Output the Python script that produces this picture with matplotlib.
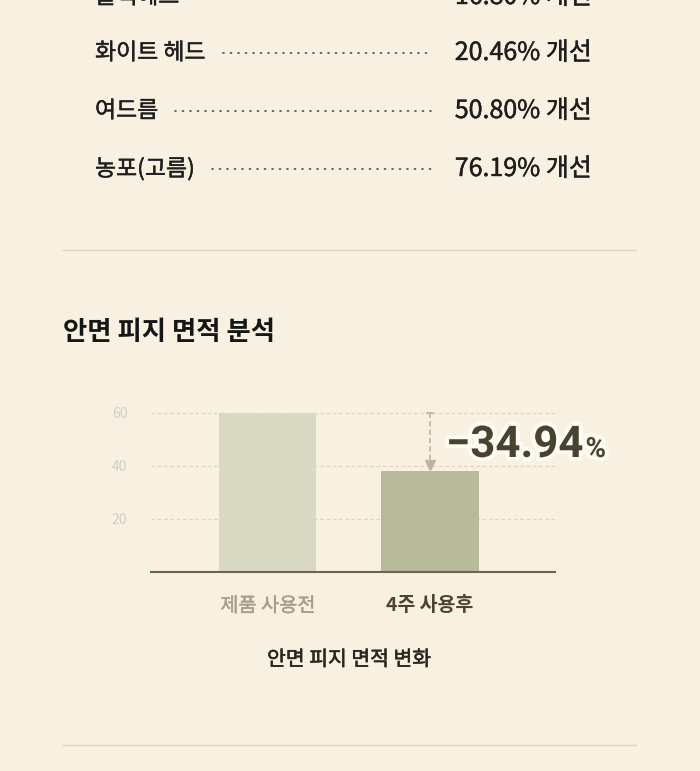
import matplotlib
matplotlib.use("Agg")
import matplotlib.pyplot as plt
import matplotlib.patheffects as pe
from matplotlib.lines import Line2D

plt.rcParams['font.family'] = ['Noto Sans CJK KR', 'DejaVu Sans']

# ---- data ----
list_labels = ["블랙헤드", "화이트 헤드", "여드름", "농포(고름)"]
list_values = ["16.80%", "20.46%", "50.80%", "76.19%"]
list_suffix = "개선"

categories = ["제품 사용전", "4주 사용후"]
values = [60, 38]
change_label = "−34.94"
yticks = [20, 40, 60]

section_title = "안면 피지 면적 분석"
chart_caption = "안면 피지 면적 변화"

# ---- layout helpers ----
W, H = 700, 771
bg = "#F8F1E1"


def fx(x):
    return x / W


def fy(y):
    return 1 - y / H


def heavier(color, lw=0.3):
    # fake a medium weight by stroking the glyph outline
    return [pe.withStroke(linewidth=lw, foreground=color)]


fig = plt.figure(figsize=(7, 7.71), dpi=100, facecolor=bg)

# ---- top list with dotted leaders ----
renderer = fig.canvas.get_renderer()
row_y = [-3, 53, 111, 169]
txt = "#1E1E1E"
for lab, val, y in zip(list_labels, list_values, row_y):
    t = fig.text(fx(95), fy(y), lab, fontsize=16.5, color=txt,
                 va="center", ha="left", path_effects=heavier(txt))
    fig.text(fx(592), fy(y), val + " " + list_suffix, fontsize=18,
             color=txt, va="center", ha="right", path_effects=heavier(txt))
    x_end = t.get_window_extent(renderer).x1 + 17
    fig.add_artist(Line2D([x_end / W, fx(433)], [fy(y), fy(y)],
                          transform=fig.transFigure, color="#4F4A43", lw=1.2,
                          linestyle=(0, (0.6, 3.9)), dash_capstyle="round"))

# separators
for y in (250, 745):
    fig.add_artist(Line2D([fx(63), fx(636)], [fy(y), fy(y)], transform=fig.transFigure,
                          color="#DCD5C4", lw=1))

# section title
fig.text(fx(63), fy(333), section_title, fontsize=19, fontweight="bold",
         color="#161616", va="center", ha="left")

# ---- bar chart ----
ax = fig.add_axes([fx(151), fy(572), (555 - 151) / W, (572 - 397) / H])
ax.set_facecolor("none")
x = list(range(len(categories)))
ax.bar(x, values, width=0.6, color=["#D9D9C3", "#B9B99C"], zorder=2)
ax.set_xlim(-0.72, 1.77)
ax.set_ylim(0, 66)
ax.set_yticks(yticks)
ax.set_yticklabels([str(v) for v in yticks], color="#D3CDBF", fontsize=10)
ax.yaxis.grid(True, color="#DDD6C4", lw=0.9, linestyle=(0, (3, 2)), zorder=0)
ax.set_axisbelow(True)
ax.tick_params(length=0)
ax.tick_params(axis="y", pad=17)
ax.tick_params(axis="x", pad=17)
ax.set_xticks(x)
ax.set_xticklabels(categories, fontsize=14.2)
xl = ax.get_xticklabels()
xl[0].set_color("#A69E8F")
xl[0].set_path_effects(heavier("#A69E8F", 0.3))
xl[1].set_color("#4E4232")
xl[1].set_fontweight("bold")
xl[1].set_fontsize(14)
for s in ("top", "right", "left"):
    ax.spines[s].set_visible(False)
ax.spines["bottom"].set_color("#6E6452")
ax.spines["bottom"].set_linewidth(1.5)

# change indicator
ac = "#BDB5A2"
ax.plot([1, 1], [values[0], values[1] + 3], color=ac, lw=1.2, linestyle=(0, (3, 2)), zorder=3)
ax.plot(1, values[0], marker="_", color=ac, markersize=6, markeredgewidth=1.2, zorder=3)
ax.plot(1, values[1] + 2.2, marker="v", color=ac, markersize=7, zorder=3)

glow = [pe.withStroke(linewidth=6, foreground="#FDFAF2")]
t = fig.text(fx(446), fy(457), change_label, fontsize=31.5, fontweight="bold",
             family=["Roboto", "DejaVu Sans"], color="#46432F", va="baseline", ha="left",
             path_effects=glow)
x_pct = t.get_window_extent(renderer).x1 + 2
fig.text(x_pct / W, fy(457), "%", fontsize=20, fontweight="bold",
         family=["Roboto", "DejaVu Sans"], color="#46432F", va="baseline", ha="left",
         path_effects=glow)

# caption
fig.text(fx(349), fy(660), chart_caption, fontsize=14.7,
         color="#2B2620", va="center", ha="center", path_effects=heavier("#2B2620", 0.4))

fig.savefig("out.png", dpi=100, facecolor=bg)
